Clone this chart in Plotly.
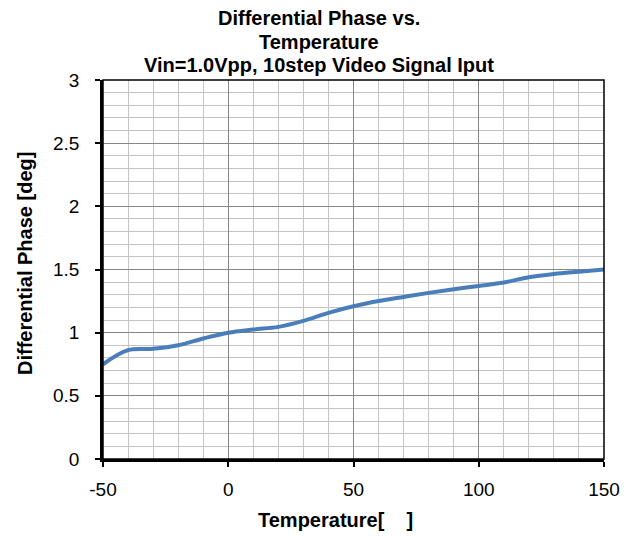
import plotly.graph_objects as go

temperature = [-50, -40, -30, -20, -10, 0, 10, 20, 30, 40, 50, 60, 70, 80, 90, 100, 110, 120, 130, 140, 150]
diff_phase = [0.75, 0.862, 0.872, 0.90, 0.954, 1.00, 1.025, 1.046, 1.093, 1.157, 1.209, 1.25, 1.283, 1.315, 1.344, 1.37, 1.397, 1.439, 1.465, 1.483, 1.50]

x_tick_values = [-50, 0, 50, 100, 150]
x_tick_labels = ["-50", "0", "50", "100", "150"]
y_tick_values = [0, 0.5, 1, 1.5, 2, 2.5, 3]
y_tick_labels = ["0", "0.5", "1", "1.5", "2", "2.5", "3"]

title_lines = ["Differential Phase vs.", "Temperature", "Vin=1.0Vpp, 10step Video Signal Iput"]
x_title = "Temperature[\u00a0\u00a0\u00a0\u00a0]"
y_title = "Differential Phase [deg]"

# page body has an 8px margin; figure coordinates below are window - 8
W, H = 629, 529
L, R, T, B = 95, 33, 72, 78
PW, PH = W - L - R, H - T - B

def px(xf):
    return (xf - L) / PW

def py(yf):
    return (H - B - yf) / PH

fig = go.Figure()
fig.add_trace(go.Scatter(
    x=temperature, y=diff_phase, mode="lines",
    line=dict(color="#4a7ebb", width=4, shape="spline", smoothing=1.0),
    showlegend=False, hoverinfo="x+y"))

font_family = "Liberation Sans, Arial, sans-serif"

fig.update_layout(
    width=W, height=H,
    margin=dict(l=L, r=R, t=T, b=B, autoexpand=False),
    paper_bgcolor="white", plot_bgcolor="white",
    font=dict(family=font_family, size=19, color="black"),
    xaxis=dict(
        range=[-50, 150], tickmode="array", tickvals=x_tick_values, ticktext=x_tick_labels,
        showgrid=True, gridcolor="#868686", gridwidth=1,
        minor=dict(dtick=10, tick0=-50, showgrid=True, gridcolor="#c4c4c4", gridwidth=1, ticks=""),
        showline=True, linecolor="black", linewidth=2.5,
        ticks="outside", ticklen=5, tickcolor="black", tickwidth=1.5,
        ticklabelstandoff=6,
        zeroline=False,
        tickfont=dict(size=19),
    ),
    yaxis=dict(
        range=[0, 3], tickmode="array", tickvals=y_tick_values, ticktext=y_tick_labels,
        showgrid=True, gridcolor="#868686", gridwidth=1,
        minor=dict(dtick=0.1, tick0=0, showgrid=True, gridcolor="#c4c4c4", gridwidth=1, ticks=""),
        showline=True, linecolor="black", linewidth=2.5,
        ticks="outside", ticklen=5, tickcolor="black", tickwidth=1.5,
        ticklabelstandoff=12,
        zeroline=False,
        tickfont=dict(size=19),
    ),
)

fig.add_shape(type="rect", xref="paper", yref="paper", x0=0, y0=0, x1=1, y1=1,
              line=dict(color="black", width=1.5), layer="above")

title_y = [10, 34, 57]
for txt, yp in zip(title_lines, title_y):
    fig.add_annotation(text="<b>" + txt + "</b>", xref="paper", yref="paper",
                       x=px(311), y=py(yp),
                       showarrow=False, font=dict(size=20, family=font_family),
                       xanchor="center", yanchor="middle")

fig.add_annotation(text="<b>" + x_title + "</b>", xref="paper", yref="paper",
                   x=px(327), y=py(512), showarrow=False,
                   font=dict(size=20, family=font_family),
                   xanchor="center", yanchor="middle")

fig.add_annotation(text="<b>" + y_title + "</b>", xref="paper", yref="paper",
                   x=px(17), y=py(256), showarrow=False, textangle=-90,
                   font=dict(size=20, family=font_family),
                   xanchor="center", yanchor="middle")

fig.write_html("out.html")
